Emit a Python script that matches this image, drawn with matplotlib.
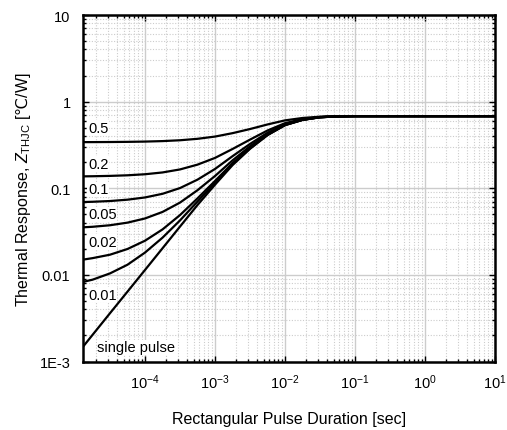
import matplotlib
matplotlib.use("Agg")
import matplotlib.pyplot as plt
from matplotlib.ticker import LogLocator, FixedLocator, FixedFormatter, NullFormatter
import matplotlib.transforms as mtransforms

plt.rcParams['font.family'] = ['Liberation Sans', 'DejaVu Sans']
plt.rcParams['mathtext.fontset'] = 'custom'
plt.rcParams['mathtext.rm'] = 'Liberation Sans'
plt.rcParams['mathtext.it'] = 'Liberation Sans:italic'
plt.rcParams['mathtext.sf'] = 'DejaVu Sans'

# pulse duration [sec]
t = [1.3e-5, 1.78e-5, 3.16e-5, 5.62e-5, 1e-4, 1.78e-4, 3.16e-4, 5.62e-4,
     1e-3, 1.78e-3, 3.16e-3, 5.62e-3, 1e-2, 1.78e-2, 3.16e-2, 5.62e-2, 0.1, 1, 10]

z_d05 = [0.3407, 0.3410, 0.3418, 0.3432, 0.3457, 0.3502, 0.3581, 0.3721, 0.395, 0.4325,
         0.4825, 0.545, 0.6075, 0.6475, 0.670, 0.6775, 0.68, 0.68, 0.68]
z_d02 = [0.1372, 0.1376, 0.1389, 0.1411, 0.1451, 0.1522, 0.1649, 0.1873, 0.224, 0.284,
         0.364, 0.464, 0.564, 0.628, 0.664, 0.676, 0.68, 0.68, 0.68]
z_d01 = [0.0693, 0.0698, 0.0712, 0.0738, 0.0783, 0.0863, 0.1005, 0.1257, 0.167, 0.2345,
         0.3245, 0.437, 0.5495, 0.6215, 0.662, 0.6755, 0.68, 0.68, 0.68]
z_d005 = [0.0354, 0.0359, 0.0374, 0.0401, 0.0448, 0.0533, 0.0683, 0.0949, 0.1385, 0.2098,
          0.3048, 0.4235, 0.5423, 0.6183, 0.661, 0.6753, 0.68, 0.68, 0.68]
z_d002 = [0.0150, 0.0156, 0.0171, 0.0199, 0.0248, 0.0335, 0.0490, 0.0764, 0.1214, 0.1949,
          0.2929, 0.4154, 0.5379, 0.6163, 0.6604, 0.6751, 0.68, 0.68, 0.68]
z_d001 = [0.0083, 0.0088, 0.0104, 0.0131, 0.0181, 0.0269, 0.0425, 0.0703, 0.1157, 0.1900,
          0.2890, 0.4127, 0.5365, 0.6157, 0.6602, 0.6751, 0.68, 0.68, 0.68]
z_single = [0.00148, 0.00203, 0.00361, 0.00641, 0.0114, 0.0203, 0.0361, 0.0641, 0.110, 0.185,
            0.285, 0.41, 0.535, 0.615, 0.660, 0.675, 0.68, 0.68, 0.68]

series = [z_d05, z_d02, z_d01, z_d005, z_d002, z_d001, z_single]
labels = ['0.5', '0.2', '0.1', '0.05', '0.02', '0.01', 'single pulse']
label_y = [0.5, 0.19, 0.097, 0.05, 0.024, 0.0059, 0.00146]

ytick_vals = [1e-3, 1e-2, 1e-1, 1, 10]
ytick_labels = ['1E-3', '0.01', '0.1', '1', '10']

fig = plt.figure(figsize=(5.07, 4.31), dpi=100)
ax = fig.add_axes([83/507, 1-362.5/431, 412/507, 346.5/431])

for z in series:
    ax.plot(t, z, color='black', lw=1.6, zorder=3)

ax.set_xscale('log')
ax.set_yscale('log')
ax.set_xlim(1.3e-5, 10)
ax.set_ylim(1e-3, 10)

ax.xaxis.set_major_locator(LogLocator(base=10, numticks=20))
ax.xaxis.set_minor_locator(LogLocator(base=10, subs=range(2, 10), numticks=100))
ax.xaxis.set_minor_formatter(NullFormatter())
ax.yaxis.set_major_locator(FixedLocator(ytick_vals))
ax.yaxis.set_major_formatter(FixedFormatter(ytick_labels))
ax.yaxis.set_minor_locator(LogLocator(base=10, subs=range(2, 10), numticks=100))
ax.yaxis.set_minor_formatter(NullFormatter())

ax.grid(which='major', color='#cccccc', lw=1.0, ls='-', zorder=0)
ax.grid(which='minor', color='#cccccc', lw=0.8, ls=(0, (1, 1.5)), zorder=0)
ax.set_axisbelow(True)

ax.tick_params(which='both', direction='in', top=True, right=True, labelsize=10.5, colors='black')
ax.tick_params(which='major', length=4, width=1)
ax.tick_params(which='minor', length=2.5, width=1)
ax.tick_params(axis='y', pad=9)
ax.tick_params(axis='x', pad=8)

for s in ax.spines.values():
    s.set_linewidth(1.8)
    s.set_color('black')

trans = mtransforms.blended_transform_factory(ax.transAxes, ax.transData)
for lab, yv in zip(labels, label_y):
    xoff = 0.035 if lab == 'single pulse' else 0.012
    ax.text(xoff, yv, lab, transform=trans, ha='left', va='center', fontsize=10.5,
            zorder=4, bbox=dict(facecolor='white', edgecolor='none', pad=0.5))

ax.set_xlabel('Rectangular Pulse Duration [sec]', fontsize=11.5, labelpad=14)
ax.set_ylabel(r'Thermal Response, $Z_{\mathrm{THJC}}$ [$\mathsf{℃}$/W]', fontsize=11.5, labelpad=5)

fig.savefig('out.png', dpi=100)
